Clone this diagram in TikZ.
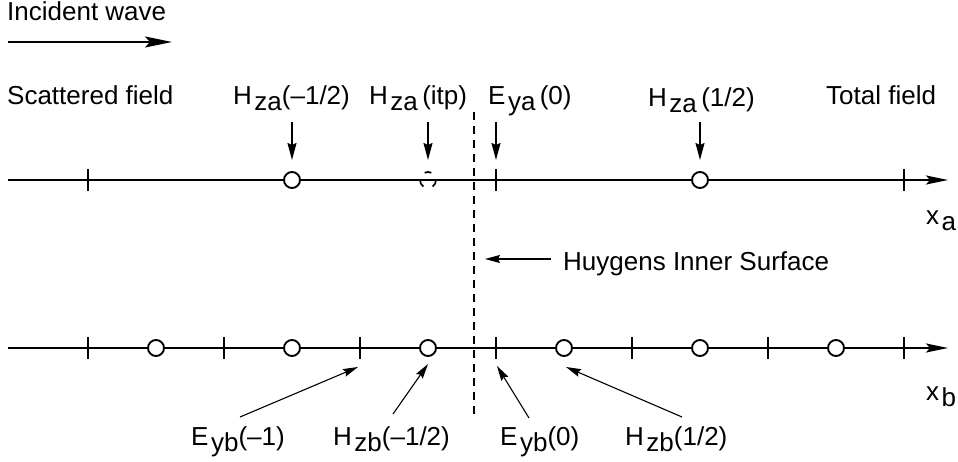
\documentclass[tikz,border=0pt]{standalone}
\usepackage{fontspec}
\setmainfont{Liberation Sans}
\usetikzlibrary{arrows.meta}
\newcommand\subs[1]{\kern2.5pt\raisebox{-6pt}{#1}}
\begin{document}
\begin{tikzpicture}[x=1pt,y=-1pt,
  font=\fontsize{26}{31}\selectfont,
  lbl/.style={anchor=base west, inner sep=0pt},
  axis/.style={line width=2.1pt, -{Stealth[length=22pt,width=9pt,inset=4pt]}},
  tickmark/.style={line width=2.1pt},
  site/.style={circle, draw, fill=white, line width=1.9pt, minimum size=16pt, inner sep=0pt},
  down/.style={line width=1.4pt, -{Stealth[length=17pt,width=9pt,inset=2pt]}},
  ptr/.style={line width=1.1pt, -{Stealth[length=15pt,width=8pt,inset=2pt]}},
  inc/.style={line width=2.1pt, -{Stealth[length=27pt,width=11pt,inset=5pt]}}
]
\useasboundingbox (0,0) rectangle (958,462);

% incident wave
\node[lbl] (inct) at (7,21) {Incident wave};
\coordinate (i0) at (8,42);
\coordinate (i1) at (172,42);
\draw[inc] (i0) -- (i1);

% region labels
\node[lbl] (scat) at (7,105) {Scattered field};
\node[lbl] (tot) at (826,105) {Total field};

% top axis
\coordinate (a0) at (8,180);
\coordinate (a1) at (948,180);
\draw[axis] (a0) -- (a1);
\node[lbl] (xa) at (926,225) {x\subs{a}};
\foreach \n/\x in {1/88,2/496,3/904}{
  \coordinate (ta\n) at (\x,180);
  \draw[tickmark] ([yshift=11pt]ta\n) -- ([yshift=-11pt]ta\n);
}
\node[site] (ca1) at (292,180) {};
\node[site] (ca2) at (700,180) {};
\coordinate (cai) at (428,180);
\draw[line width=1.7pt] (cai) ++(245:8) arc[start angle=245,end angle=295,radius=8];
\draw[line width=1.7pt] (cai) ++(0:8) arc[start angle=0,end angle=55,radius=8];
\draw[line width=1.7pt] (cai) ++(125:8) arc[start angle=125,end angle=180,radius=8];

% bottom axis
\coordinate (b0) at (8,348);
\coordinate (b1) at (948,348);
\draw[axis] (b0) -- (b1);
\node[lbl] (xb) at (926,400) {x\subs{b}};
\foreach \n/\x in {1/88,2/224,3/360,4/496,5/632,6/768,7/904}{
  \coordinate (tb\n) at (\x,348);
  \draw[tickmark] ([yshift=11pt]tb\n) -- ([yshift=-11pt]tb\n);
}
\foreach \n/\x in {1/156,2/292,3/428,4/564,5/700,6/836}{
  \node[site] (cb\n) at (\x,348) {};
}

% Huygens surface
\coordinate (h0) at (474,112);
\coordinate (h1) at (474,417);
\draw[line width=1.8pt, dash pattern=on 8pt off 6pt] (h0) -- (h1);
\node[lbl] (huy) at (563,271) {Huygens Inner Surface};
\coordinate (hp) at (551,259);
\draw[ptr] (hp) -- ([xshift=11pt]h0 |- hp);

% top labels and arrows
\node[lbl] (Hzam) at (233,105) {H\subs{za}(–1/2)};
\node[lbl] (Hzai) at (369,105) {H\subs{za}\,(itp)};
\node[lbl] (Eya)  at (488,105) {E\subs{ya}\,(0)};
\node[lbl] (Hzap) at (648,107) {H\subs{za}\,(1/2)};
\coordinate (d1) at (292,122);
\coordinate (d2) at (428,122);
\coordinate (d3) at (496,122);
\coordinate (d4) at (700,122);
\draw[down] (d1) -- ([yshift=20pt]ca1.center);
\draw[down] (d2) -- ([yshift=20pt]cai);
\draw[down] (d3) -- ([yshift=20pt]ta2);
\draw[down] (d4) -- ([yshift=20pt]ca2.center);

% bottom labels and arrows
\node[lbl] (Eybm) at (191,445) {E\subs{yb}(–1)};
\node[lbl] (Hzbm) at (333,445) {H\subs{zb}(–1/2)};
\node[lbl] (Eyb0) at (500,445) {E\subs{yb}(0)};
\node[lbl] (Hzbp) at (625,445) {H\subs{zb}(1/2)};
\coordinate (p1) at (240,417);
\coordinate (p2) at (393,414);
\coordinate (p3) at (529,418);
\coordinate (p4) at (682,417);
\draw[ptr] (p1) -- ([xshift=-2pt,yshift=-19pt]tb3);
\draw[ptr] (p2) -- ([yshift=-16pt]cb3.center);
\draw[ptr] (p3) -- ([xshift=1pt,yshift=-18pt]tb4);
\draw[ptr] (p4) -- ([xshift=2pt,yshift=-19pt]cb4.center);
\end{tikzpicture}
\end{document}
